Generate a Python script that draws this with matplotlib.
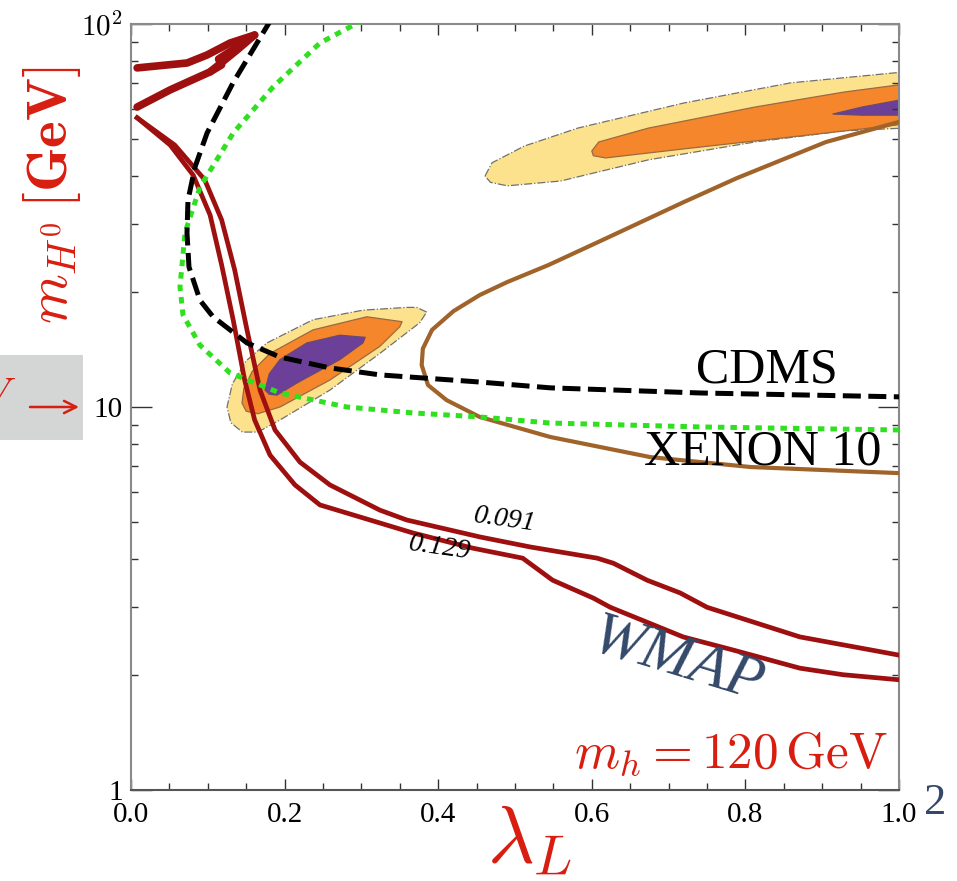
# -*- coding: utf-8 -*-
"""
Inert doublet dark matter: m_H0 vs lambda_L plane at m_h = 120 GeV
WMAP relic density bands, CDMS / XENON10 limits and the favoured regions.
"""

import numpy as np
import matplotlib
matplotlib.use('Agg')
import matplotlib.pyplot as plt
from matplotlib.patches import Rectangle, FancyArrowPatch
from matplotlib.ticker import FixedLocator, FixedFormatter, LogLocator, MultipleLocator, NullFormatter

plt.rcParams['mathtext.fontset'] = 'cm'
plt.rcParams['font.family'] = ['Liberation Serif', 'DejaVu Serif']

# WMAP contours (Omega h^2 = 0.091 and 0.129), low-mass branch
wmap091_lam = [0.008, 0.057, 0.096, 0.118, 0.135, 0.151, 0.168, 0.1875, 0.220, 0.259,
               0.324, 0.359, 0.454, 0.520, 0.607, 0.628, 0.672, 0.715, 0.75, 0.871, 1.0]
wmap091_m = [56.9, 48.3, 39.2, 30.8, 22.8, 15.9, 11.07, 8.71, 7.18, 6.26,
             5.38, 5.07, 4.58, 4.31, 4.03, 3.91, 3.53, 3.27, 3.00, 2.51, 2.25]
wmap129_lam = [0.008, 0.051, 0.081, 0.103, 0.118, 0.133, 0.148, 0.161, 0.181, 0.2135, 0.246,
               0.324, 0.367, 0.445, 0.510, 0.549, 0.602, 0.624, 0.719, 0.784, 0.871, 0.927, 1.0]
wmap129_m = [56.9, 48.3, 40.3, 31.7, 23.5, 16.9, 11.76, 9.25, 7.49, 6.26, 5.55,
             4.98, 4.69, 4.28, 4.03, 3.53, 3.17, 3.00, 2.51, 2.32, 2.08, 2.00, 1.94]

# WMAP contours, high-mass branch near the top left
wmap_hi1_lam = [0.008, 0.073, 0.099, 0.129, 0.161]
wmap_hi1_m = [76.8, 79.1, 83.0, 89.2, 93.6]
wmap_hi2_lam = [0.008, 0.051, 0.103, 0.138, 0.161]
wmap_hi2_m = [60.7, 67.3, 75.0, 85.5, 93.6]
wmap_hi3_lam = [0.103, 0.118, 0.114, 0.142]
wmap_hi3_m = [75.0, 78.2, 81.0, 88.2]

# direct detection limits
cdms_lam = [0.1836, 0.1328, 0.099, 0.0833, 0.0742, 0.0729, 0.0755, 0.0898, 0.1068,
            0.151, 0.194, 0.259, 0.324, 0.454, 0.546, 0.741, 1.0]
cdms_m = [103.7, 70.2, 51.9, 42.3, 34.7, 28.5, 23.2, 19.0, 17.2,
          14.7, 13.5, 12.65, 12.13, 11.62, 11.22, 10.88, 10.63]
xenon_lam = [0.302, 0.246, 0.185, 0.133, 0.0898, 0.0703, 0.0638, 0.0677, 0.0898,
             0.129, 0.194, 0.281, 0.367, 0.454, 0.546, 0.741, 1.0]
xenon_m = [102.4, 89.2, 68.5, 51.9, 37.5, 28.5, 20.6, 17.4, 14.5,
           12.27, 10.88, 10.0, 9.65, 9.42, 9.08, 8.87, 8.71]

# XENON10 (brown)
xe10_lam = [1.0, 0.905, 0.789, 0.720, 0.609, 0.544, 0.490, 0.454, 0.420, 0.392, 0.380, 0.3785,
            0.3867, 0.411, 0.454, 0.546, 0.676, 0.807, 1.0]
xe10_m = [55.5, 49.2, 39.6, 34.3, 27.0, 23.5, 21.2, 19.6, 17.8, 15.9, 14.2, 12.87,
          11.41, 10.42, 9.42, 8.35, 7.40, 6.97, 6.72]

# favoured regions, low-mass island
lo_out_lam = [0.385, 0.372, 0.359, 0.302, 0.237, 0.177, 0.150, 0.132, 0.125, 0.130, 0.145, 0.165,
              0.194, 0.259, 0.324, 0.376]
lo_out_m = [17.7, 18.2, 18.2, 17.9, 16.9, 14.7, 13.2, 11.5, 10.0, 9.1, 8.6, 8.6,
            9.25, 11.07, 13.8, 16.6]
lo_mid_lam = [0.353, 0.307, 0.237, 0.181, 0.158, 0.147, 0.1445, 0.150, 0.165, 0.194, 0.259, 0.324, 0.350]
lo_mid_m = [16.7, 17.2, 15.9, 13.8, 12.4, 11.2, 10.24, 9.75, 9.6, 10.0, 11.76, 14.4, 16.2]
lo_in_lam = [0.305, 0.272, 0.229, 0.194, 0.180, 0.1745, 0.180, 0.190, 0.216, 0.272, 0.302]
lo_in_m = [15.2, 15.4, 14.7, 13.3, 12.2, 11.07, 10.8, 10.74, 11.55, 13.3, 14.7]

# favoured regions, high-mass island
hi_out_lam = [0.461, 0.470, 0.512, 0.582, 0.720, 0.859, 1.008, 1.008, 0.928, 0.8125, 0.674, 0.559, 0.490, 0.468]
hi_out_m = [40.1, 43.4, 48.0, 53.5, 62.2, 70.2, 75.0, 53.5, 52.6, 49.2, 44.2, 38.9, 37.8, 38.6]
hi_mid_lam = [0.600, 0.609, 0.674, 0.8125, 0.928, 1.008, 1.008, 0.859, 0.720, 0.618, 0.602]
hi_mid_m = [46.6, 49.2, 53.5, 60.7, 66.4, 69.7, 54.8, 50.7, 47.2, 44.7, 45.3]
hi_in_lam = [0.914, 0.952, 1.008, 1.008, 0.952]
hi_in_m = [58.2, 60.7, 63.7, 57.8, 57.8]

x_ticks = [0.0, 0.2, 0.4, 0.6, 0.8, 1.0]
x_ticklabels = ['0.0', '0.2', '0.4', '0.6', '0.8', '1.0']
y_ticks = [1, 10, 100]
y_ticklabels = ['1', '10', r'$10^2$']

RED = '#d81e10'
WMAP_RED = '#9e1010'
SLATE = '#34496a'

fig = plt.figure(figsize=(9.57, 8.81), dpi=100)
ax = fig.add_axes([131/957, 1 - 790/881, 768/957, 766/881])
ax.set_yscale('log')
ax.set_xlim(0, 1)
ax.set_ylim(1, 100)

# shaded islands
for lam, m, fc, ec, ls in [(lo_out_lam, lo_out_m, '#fde28e', '#707070', '-.'),
                           (lo_mid_lam, lo_mid_m, '#f5862c', '#9a6a40', '-'),
                           (lo_in_lam, lo_in_m, '#6c3f98', '#6a4a70', '-'),
                           (hi_out_lam, hi_out_m, '#fde28e', '#707070', '-.'),
                           (hi_mid_lam, hi_mid_m, '#f5862c', '#9a6a40', '-'),
                           (hi_in_lam, hi_in_m, '#6c3f98', '#6a4a70', '-')]:
    ax.fill(lam, m, facecolor=fc, edgecolor=ec, linestyle=ls, linewidth=0.9,
            joinstyle='round', zorder=1)

ax.plot(xe10_lam, xe10_m, color='#a0642a', lw=3.0, zorder=3, solid_joinstyle='round')

for lam, m in [(wmap091_lam, wmap091_m), (wmap129_lam, wmap129_m)]:
    ax.plot(lam, m, color=WMAP_RED, lw=3.4, zorder=4, solid_joinstyle='round')
for lam, m in [(wmap_hi1_lam, wmap_hi1_m), (wmap_hi2_lam, wmap_hi2_m), (wmap_hi3_lam, wmap_hi3_m)]:
    ax.plot(lam, m, color=WMAP_RED, lw=5.5, zorder=4, solid_joinstyle='round',
            solid_capstyle='round')

ax.plot(xenon_lam, xenon_m, color='#30e020', lw=3.6, dashes=(1.3, 1.2), zorder=5)
ax.plot(cdms_lam, cdms_m, color='black', lw=3.6, dashes=(3.6, 1.5), zorder=6)

# labels inside the frame
ax.text(0.828, 12.5, 'CDMS', fontsize=36, ha='center', va='center', zorder=7)
ax.text(0.822, 7.63, 'XENON 10', fontsize=36, ha='center', va='center', zorder=7)
ax.text(0.487, 5.07, '0.091', fontsize=20, style='italic', rotation=-8,
        ha='center', va='center', zorder=7)
ax.text(0.402, 4.28, '0.129', fontsize=20, style='italic', rotation=-8,
        ha='center', va='center', zorder=7)
ax.text(0.712, 2.16, 'WMAP', fontsize=44, style='italic', color=SLATE, rotation=-17,
        ha='center', va='center', zorder=7)
ax.text(0.986, 1.234, r'$m_h = 120\,\mathrm{GeV}$', fontsize=37, color=RED,
        ha='right', va='center', zorder=7)

# axes styling
ax.xaxis.set_major_locator(FixedLocator(x_ticks))
ax.xaxis.set_major_formatter(FixedFormatter(x_ticklabels))
ax.xaxis.set_minor_locator(MultipleLocator(0.05))
ax.yaxis.set_major_locator(FixedLocator(y_ticks))
ax.yaxis.set_major_formatter(FixedFormatter(y_ticklabels))
ax.yaxis.set_minor_locator(LogLocator(base=10, subs=np.arange(2, 10)))
ax.yaxis.set_minor_formatter(NullFormatter())
ax.tick_params(which='both', direction='in', top=True, right=True, colors='#333333',
               labelcolor='black', labelsize=21)
ax.tick_params(axis='x', which='major', length=8, width=1, pad=9)
ax.tick_params(axis='x', which='minor', length=5, width=1)
ax.tick_params(axis='y', which='major', length=15, width=1, pad=6)
ax.tick_params(axis='y', which='minor', length=5, width=1)
for side in ['left', 'right', 'top']:
    ax.spines[side].set_color('#8a8a8a')
    ax.spines[side].set_linewidth(1.5)
ax.spines['bottom'].set_color('#555555')
ax.spines['bottom'].set_linewidth(1.5)

# axis titles and margin decorations
fig.text(52/957, 1 - 195/881, r'$m_{H^0}\,\mathbf{[GeV]}$', rotation=90, fontsize=41,
         color=RED, ha='center', va='center')
fig.text(530/957, 1 - 842/881, r'$\lambda_L$', fontsize=58, color=RED,
         ha='center', va='center')
fig.patches.append(Rectangle((0, 1 - 440/881), 83/957, 85/881, transform=fig.transFigure,
                             facecolor='#d4d6d5', edgecolor='none', zorder=0))
fig.text(16/957, 1 - 398/881, r'$V$', fontsize=30, color=RED, ha='right', va='center')
fig.add_artist(FancyArrowPatch((30/957, 1 - 407/881), (79/957, 1 - 407/881),
                               transform=fig.transFigure, arrowstyle='->',
                               shrinkA=0, shrinkB=0, mutation_scale=22, color=RED, lw=1.8))
fig.text(924/957, 1 - 803/881, '2', fontsize=32, color=SLATE, ha='left', va='center')

fig.savefig('out.png', dpi=100)
